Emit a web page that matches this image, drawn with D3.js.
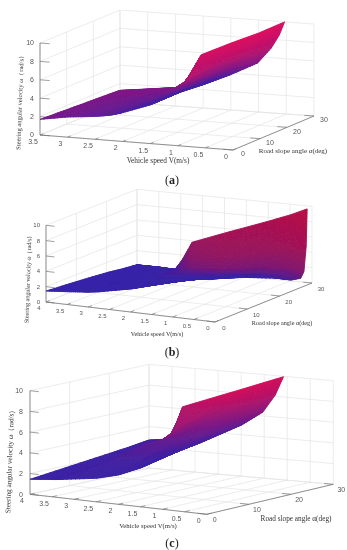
<!DOCTYPE html>
<html lang="en">
<head>
    <meta charset="UTF-8">
    <title>Steering angular velocity surfaces</title>
    <script src="https://d3js.org/d3.v7.min.js"></script>
    <style>
        html, body { margin: 0; background: #fff; }
        svg { display: block; }
        .tick-label { font-family: "Liberation Sans", sans-serif; fill: #555; }
        .axis-label { font-family: "Liberation Serif", serif; fill: #333; }
        .caption { font-family: "Liberation Serif", serif; font-size: 12px; fill: #222; }
    </style>
</head>
<body>
    <svg width="347" height="550"></svg>

    <script type="text/javascript">
        const omegaTicks = [0, 2, 4, 6, 8, 10];
        const slopeTicks = [0, 10, 20, 30];
        const speedTicksA = [0, 0.5, 1, 1.5, 2, 2.5, 3, 3.5];
        const speedTicksB = [0, 0.5, 1, 1.5, 2, 2.5, 3, 3.5, 4];

        // Panel (a)
        const speedA = [3.5, 3, 2.6, 2.38, 2.2, 2.03, 1.5, 1, 0.53];
        const slopeA = [0, 10, 20, 25, 28, 30];
        const omegaA = [
            [1.7, 1.56, 1.42, 1.35, 1.3, 1.27],
            [2.19, 2.05, 1.9, 1.78, 1.7, 1.63],
            [2.42, 2.35, 2.2, 2.08, 2.0, 1.94],
            [2.59, 2.55, 2.45, 2.3, 2.15, 2.04],
            [2.78, 2.8, 2.85, 2.7, 3.1, 3.98],
            [3.07, 3.2, 3.3, 3.7, 5.0, 5.79],
            [4.2, 4.3, 4.7, 5.6, 6.4, 7.27],
            [5.73, 5.75, 5.95, 6.7, 7.6, 8.58],
            [6.87, 6.72, 6.76, 7.75, 8.8, 10]
        ];
        const shadeFrontA = [0.4, 0.35, 0.3, 0.25, 0.2, 0.15, 0.05, 0.03, 0.03];
        const shadeBackA = [0.45, 0.45, 0.45, 0.45, 0.7, 0.95, 1, 1, 1];
        const shadeMixA = [0, 0.15, 0.45, 0.75, 0.9, 1];

        // Panel (b)
        const speedB = [4, 3.5, 3.13, 2.97, 2.74, 2, 1, 0.5, 0.11];
        const slopeB = [0, 10, 20, 25, 28, 29, 29.7, 30];
        const omegaB = [
            [1.43, 1.1, 0.7, 0.4, 0.25, 0.2, 0.16, 0.15],
            [1.67, 1.25, 0.75, 0.4, 0.25, 0.2, 0.15, 0.14],
            [1.87, 1.4, 0.75, 0.25, 0.12, 0.1, 0.06, 0.05],
            [1.97, 1.5, 0.8, 0.3, 0.2, 0.3, 0.6, 1.35],
            [2.16, 1.6, 0.9, 0.45, 0.3, 0.5, 1.7, 3.8],
            [3.0, 2.2, 1.3, 0.7, 0.5, 0.8, 2.4, 5.4],
            [4.56, 3.4, 2.1, 1.3, 1.2, 1.7, 3.8, 7.5],
            [5.2, 3.9, 2.4, 1.5, 1.2, 1.8, 4.4, 8.6],
            [5.53, 4.05, 2.28, 1.17, 0.9, 1.6, 4.8, 9.6]
        ];
        const shadeFrontB = [0, 0, 0, 0, 0, 0, 0, 0, 0];
        const shadeBackB = [0.03, 0.03, 0.03, 0.4, 0.75, 0.85, 0.9, 0.95, 1];
        const shadeMixB = [0, 0, 0.05, 0.2, 0.35, 0.6, 0.85, 1];

        // Panel (c)
        const speedC = [4, 3.54, 3.43, 3.27, 2.5, 2, 1.5, 1.08];
        const slopeC = [0, 10, 20, 25, 28, 30];
        const omegaC = [
            [1.45, 1.85, 2.25, 2.45, 2.6, 2.7],
            [1.65, 2.05, 2.45, 2.7, 2.85, 2.98],
            [1.7, 2.15, 2.75, 3.1, 3.15, 4.08],
            [1.79, 2.4, 3.3, 3.4, 4.1, 6.2],
            [2.27, 2.9, 4, 5.1, 6.3, 7.52],
            [2.83, 3.8, 4.6, 5.8, 7.1, 8.37],
            [3.74, 4.6, 5.5, 6.4, 7.8, 9.24],
            [4.96, 5.45, 6.25, 7, 8.37, 9.96]
        ];
        const shadeFrontC = [0.03, 0.03, 0.03, 0.03, 0.03, 0.03, 0.03, 0.03];
        const shadeBackC = [0.1, 0.15, 0.3, 0.8, 0.95, 1, 1, 1];
        const shadeMixC = [0, 0.05, 0.25, 0.5, 0.8, 1];

        const zLabel = 'Steering angular velocity \u03c9\uff08rad/s\uff09';
        const xLabel = 'Vehicle speed V(m/s)';
        const yLabel = 'Road slope angle \u03b1(deg)';

        const panels = [
            {
                speed: speedA, slope: slopeA, omega: omegaA,
                shadeFront: shadeFrontA, shadeBack: shadeBackA, shadeMix: shadeMixA,
                speedTicks: speedTicksA, speedMax: 3.5,
                front: [233, 150], left: [40, 135], right: [314, 116], back: [120, 102], zPx: 9.2,
                hot: '#dc0f5e',
                speedOff: [-7, 6.5], slopeOff: [10, 4], zOff: -6, tickSize: 7,
                xPos: [158, 162.5, 7.3], yPos: [293, 153, 7], zPos: [22, 101, 6.5], caption: [172, 180], letter: 'a'
            },
            {
                speed: speedB, slope: slopeB, omega: omegaB,
                shadeFront: shadeFrontB, shadeBack: shadeBackB, shadeMix: shadeMixB,
                speedTicks: speedTicksB, speedMax: 4,
                front: [215, 322], left: [46, 302], right: [312, 283], back: [137, 266], zPx: 7.67,
                hot: '#b80f45',
                speedOff: [-7, 6], slopeOff: [9, 6], zOff: -6, tickSize: 6,
                xPos: [157, 335.5, 6.1], yPos: [282, 325, 6.2], zPos: [30, 278, 6.1], caption: [172, 352], letter: 'b'
            },
            {
                speed: speedC, slope: slopeC, omega: omegaC,
                shadeFront: shadeFrontC, shadeBack: shadeBackC, shadeMix: shadeMixC,
                speedTicks: speedTicksB, speedMax: 4,
                front: [206.7, 514.3], left: [30, 494.3], right: [333.3, 484.3], back: [149, 468], zPx: 10.36,
                hot: '#d40f58',
                speedOff: [-8, 6.5], slopeOff: [8, 5.5], zOff: -7, tickSize: 7,
                xPos: [148, 527.5, 6.7], yPos: [296, 520.5, 7.25], zPos: [12, 460, 7.2], caption: [172, 543], letter: 'c'
            }
        ];

        const cool = '#3722a8';
        const svg = d3.select('svg');

        const blur = svg.append('defs').append('filter')
            .attr('id', 'soft')
            .attr('x', 0).attr('y', 0).attr('width', 1).attr('height', 1);
        blur.append('feGaussianBlur').attr('stdDeviation', 0.45);

        const root = svg.append('g').attr('filter', 'url(#soft)');

        panels.forEach(drawPanel);

        function drawPanel(p) {
            const g = root.append('g');
            const u = d3.scaleLinear().domain([0, p.speedMax]).range([0, 1]);
            const v = d3.scaleLinear().domain([0, 30]).range([0, 1]);
            const z = d3.scaleLinear().domain([0, 10]).range([0, 10 * p.zPx]);
            const heat = d3.interpolateRgb(cool, p.hot);

            // floor is a bilinear patch between the four corners
            function project(speed, slope, omega) {
                const a = u(speed), b = v(slope);
                const x = (1 - a) * (1 - b) * p.front[0] + a * (1 - b) * p.left[0] + (1 - a) * b * p.right[0] + a * b * p.back[0];
                const y = (1 - a) * (1 - b) * p.front[1] + a * (1 - b) * p.left[1] + (1 - a) * b * p.right[1] + a * b * p.back[1];
                return [x, y - z(omega)];
            }

            function segment(from, to, color, width) {
                const s = project(...from), e = project(...to);
                g.append('line')
                    .attr('x1', s[0]).attr('y1', s[1])
                    .attr('x2', e[0]).attr('y2', e[1])
                    .attr('stroke', color)
                    .attr('stroke-width', width);
            }

            // Grid on floor and the two walls
            const gridColor = '#e4e4e4';
            p.speedTicks.forEach(d => {
                segment([d, 0, 0], [d, 30, 0], gridColor, 0.7);
                segment([d, 30, 0], [d, 30, 10], gridColor, 0.7);
            });
            slopeTicks.forEach(d => {
                segment([0, d, 0], [p.speedMax, d, 0], gridColor, 0.7);
                segment([p.speedMax, d, 0], [p.speedMax, d, 10], gridColor, 0.7);
            });
            omegaTicks.forEach(d => {
                segment([0, 30, d], [p.speedMax, 30, d], gridColor, 0.7);
                segment([p.speedMax, 30, d], [p.speedMax, 0, d], gridColor, 0.7);
            });

            // Axes
            const axisColor = '#777';
            segment([p.speedMax, 0, 0], [p.speedMax, 0, 10], axisColor, 0.8);
            segment([p.speedMax, 0, 0], [0, 0, 0], axisColor, 0.8);
            segment([0, 0, 0], [0, 30, 0], axisColor, 0.8);

            omegaTicks.forEach(d => {
                segment([p.speedMax, 0, d], [p.speedMax - 0.05 * p.speedMax, 0, d], axisColor, 0.7);
                const pos = project(p.speedMax, 0, d);
                g.append('text').attr('class', 'tick-label')
                    .attr('x', pos[0] + p.zOff).attr('y', pos[1] + p.tickSize * 0.35)
                    .attr('text-anchor', 'end')
                    .attr('font-size', p.tickSize)
                    .text(d);
            });
            p.speedTicks.forEach(d => {
                segment([d, 0, 0], [d, 1.2, 0], axisColor, 0.7);
                const pos = project(d, 0, 0);
                g.append('text').attr('class', 'tick-label')
                    .attr('x', pos[0] + p.speedOff[0]).attr('y', pos[1] + p.speedOff[1] + p.tickSize * 0.35)
                    .attr('text-anchor', 'middle')
                    .attr('font-size', p.tickSize)
                    .text(d);
            });
            slopeTicks.forEach(d => {
                segment([0, d, 0], [0.05 * p.speedMax, d, 0], axisColor, 0.7);
                const pos = project(0, d, 0);
                g.append('text').attr('class', 'tick-label')
                    .attr('x', pos[0] + p.slopeOff[0]).attr('y', pos[1] + p.slopeOff[1] + p.tickSize * 0.35)
                    .attr('text-anchor', 'middle')
                    .attr('font-size', p.tickSize)
                    .text(d);
            });

            // Surface, painted from the back edge to the front edge
            const steps = 8;
            const surface = g.append('g');
            for (let j = p.slope.length - 2; j >= 0; j--) {
                for (let sj = steps - 1; sj >= 0; sj--) {
                    for (let i = 0; i < p.speed.length - 1; i++) {
                        for (let si = 0; si < steps; si++) {
                            const corners = [[si, sj], [si + 1, sj], [si + 1, sj + 1], [si, sj + 1]]
                                .map(c => cellPoint(p, i, j, c[0] / steps, c[1] / steps));
                            const mid = cellPoint(p, i, j, (si + 0.5) / steps, (sj + 0.5) / steps);
                            const color = heat(mid.shade);
                            surface.append('polygon')
                                .attr('points', corners.map(c => project(c.speed, c.slope, c.omega).join(',')).join(' '))
                                .attr('fill', color)
                                .attr('stroke', color)
                                .attr('stroke-width', 0.9)
                                .attr('stroke-linejoin', 'round');
                        }
                    }
                }
            }

            // Labels
            g.append('text').attr('class', 'axis-label')
                .attr('x', p.xPos[0]).attr('y', p.xPos[1]).attr('text-anchor', 'middle')
                .attr('font-size', p.xPos[2]).text(xLabel);
            g.append('text').attr('class', 'axis-label')
                .attr('x', p.yPos[0]).attr('y', p.yPos[1]).attr('text-anchor', 'middle')
                .attr('font-size', p.yPos[2]).text(yLabel);
            g.append('text').attr('class', 'axis-label')
                .attr('transform', `translate(${p.zPos[0]},${p.zPos[1]}) rotate(-88)`)
                .attr('text-anchor', 'middle')
                .attr('font-size', p.zPos[2]).text(zLabel);

            const cap = g.append('text').attr('class', 'caption')
                .attr('x', p.caption[0]).attr('y', p.caption[1] + 4)
                .attr('text-anchor', 'middle');
            cap.append('tspan').text('(');
            cap.append('tspan').attr('font-weight', 'bold').text(p.letter);
            cap.append('tspan').text(')');
        }

        // Value inside one grid cell, blended from its four corners
        function cellPoint(p, i, j, s, t) {
            const speed = p.speed[i] + (p.speed[i + 1] - p.speed[i]) * s;
            const slope = p.slope[j] + (p.slope[j + 1] - p.slope[j]) * t;
            const low = p.omega[i][j] + (p.omega[i + 1][j] - p.omega[i][j]) * s;
            const high = p.omega[i][j + 1] + (p.omega[i + 1][j + 1] - p.omega[i][j + 1]) * s;
            const mix = p.shadeMix[j] + (p.shadeMix[j + 1] - p.shadeMix[j]) * t;
            const front = p.shadeFront[i] + (p.shadeFront[i + 1] - p.shadeFront[i]) * s;
            const back = p.shadeBack[i] + (p.shadeBack[i + 1] - p.shadeBack[i]) * s;
            return { speed, slope, omega: low + (high - low) * t, shade: front + (back - front) * mix };
        }
    </script>
</body>
</html>
